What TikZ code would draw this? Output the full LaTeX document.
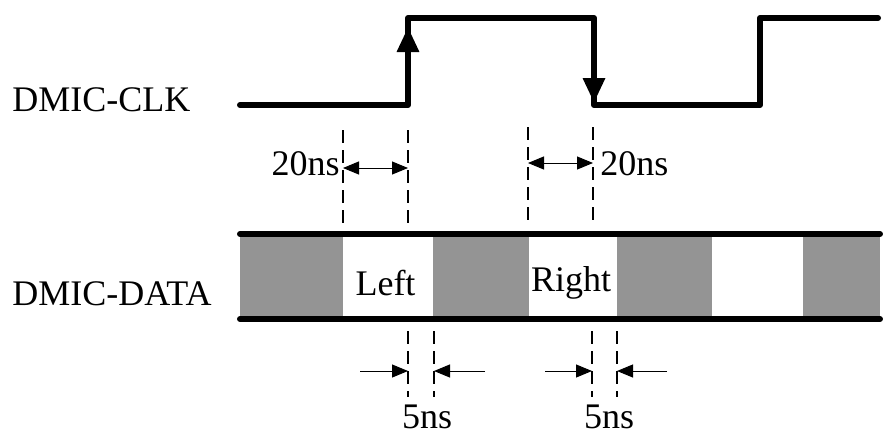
\documentclass[tikz,border=0pt]{standalone}
\usepackage{fontspec}
\setmainfont{Liberation Serif}
\usepackage{tikz}
\usetikzlibrary{arrows.meta,positioning,calc}

\begin{document}
\begin{tikzpicture}[x=0.5pt, y=-0.5pt,
    every node/.style={inner sep=0pt, font=\fontsize{18}{20}\selectfont},
    wave/.style={line width=3pt, line join=round, line cap=round},
    edgetip/.style={line width=3pt, -{Triangle[length=12.5pt, width=10.5pt]}},
    guide/.style={line width=1.4pt, dash pattern=on 6.5pt off 3.5pt},
    dim/.style={line width=0.5pt},
    dimboth/.style={dim, {Triangle[length=8pt, width=6.5pt]}-{Triangle[length=8pt, width=6.5pt]}},
    dimin/.style={dim, -{Triangle[length=8pt, width=6.5pt]}},
    slot/.style={fill=black!42, draw=none}]
    \useasboundingbox (0,0) rectangle (883,434);

    % Signal names
    \node[anchor=base west] (clkname) at (12,111) {DMIC-CLK};
    \node[anchor=base west] (dataname) at (12,305) {DMIC-DATA};

    % Clock waveform
    \coordinate (c0) at (240,105);
    \coordinate (r1lo) at (408,105);
    \coordinate (r1hi) at (408,18);
    \coordinate (f1hi) at (594,18);
    \coordinate (f1lo) at (594,105);
    \coordinate (r2lo) at (760,105);
    \coordinate (r2hi) at (760,18);
    \coordinate (c1) at (878,18);
    \draw[wave] (c0) -- (r1lo) -- (r1hi) -- (f1hi) -- (f1lo) -- (r2lo) -- (r2hi) -- (c1);
    \draw[edgetip] (r1lo) -- (408,27);
    \draw[edgetip] (f1hi) -- (594,103);

    % Data slots
    \fill[slot] (240,234) rectangle (343,319);
    \fill[slot] (433,234) rectangle (529,319);
    \fill[slot] (617,234) rectangle (712,319);
    \fill[slot] (803,234) rectangle (880,319);
    \coordinate (d0top) at (240,234);
    \coordinate (d1top) at (880,234);
    \coordinate (d0bot) at (240,319);
    \coordinate (d1bot) at (880,319);
    \draw[wave] (d0top) -- (d1top);
    \draw[wave] (d0bot) -- (d1bot);
    \node (left) at (385.5,283) {Left};
    \node (right) at (571,283) {Right};

    % Setup guides (20ns)
    \coordinate (s1a) at (343,130); \coordinate (s1b) at (343,226);
    \coordinate (s2a) at (408,130); \coordinate (s2b) at (408,226);
    \coordinate (s3a) at (528,127); \coordinate (s3b) at (528,220);
    \coordinate (s4a) at (593,127); \coordinate (s4b) at (593,220);
    \draw[guide] (s1a) -- (s1b);
    \draw[guide] (s2a) -- (s2b);
    \draw[guide] (s3a) -- (s3b);
    \draw[guide] (s4a) -- (s4b);
    \draw[dimboth] (343,168) -- (408,168);
    \draw[dimboth] (528,163) -- (593,163);
    \node[anchor=base east] (setupl) at (340,175) {20ns};
    \node[anchor=base west] (setupr) at (600,175) {20ns};

    % Hold guides (5ns)
    \coordinate (h1a) at (408,331); \coordinate (h1b) at (408,397);
    \coordinate (h2a) at (434,331); \coordinate (h2b) at (434,397);
    \coordinate (h3a) at (592,331); \coordinate (h3b) at (592,397);
    \coordinate (h4a) at (617,331); \coordinate (h4b) at (617,397);
    \draw[guide] (h1a) -- (h1b);
    \draw[guide] (h2a) -- (h2b);
    \draw[guide] (h3a) -- (h3b);
    \draw[guide] (h4a) -- (h4b);
    \draw[dimin] (360,371) -- (408,371);
    \draw[dimin] (485,371) -- (434,371);
    \draw[dimin] (545,371) -- (592,371);
    \draw[dimin] (667,371) -- (617,371);
    \node[anchor=base] (holdl) at (427,428) {5ns};
    \node[anchor=base] (holdr) at (609,428) {5ns};
\end{tikzpicture}
\end{document}
